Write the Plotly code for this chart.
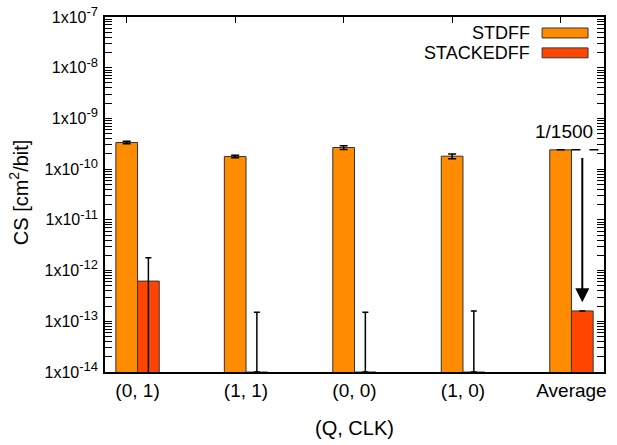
import math
import plotly.graph_objects as go

# ---- data ----
categories = ["(0, 1)", "(1, 1)", "(0, 0)", "(1, 0)", "Average"]
stdff = [3.35e-10, 1.77e-10, 2.67e-10, 1.80e-10, 2.40e-10]
stdff_err = [2.0e-11, 1.0e-11, 2.2e-11, 1.9e-11, 0.0]
stackedff = [6.2e-13, 0.0, 0.0, 0.0, 1.6e-13]
stackedff_err_hi = [1.8e-12, 1.5e-13, 1.5e-13, 1.6e-13, 0.0]  # upper end of error bar
ytick_exps = [-14, -13, -12, -11, -10, -9, -8, -7]
ratio_label = "1/1500"

# ---- styling ----
FONT = "Liberation Sans, Arial, sans-serif"
C_STD = "#FF8C00"
C_STK = "#FF4500"
BAR_W = 0.2
Y_MIN = 1e-14
X_RANGE = [-0.2, 4.4]

n = len(categories)
xs = list(range(n))
x_std = [x for x in xs]
x_stk = [x + BAR_W for x in xs]

# zero values cannot be shown on a log axis -> place at the axis floor (invisible bar)
stk_plot = [v if v > 0 else Y_MIN for v in stackedff]
stk_up = [max(h - p, 0) if h > 0 else 0 for h, p in zip(stackedff_err_hi, stk_plot)]
stk_dn = [p if (h > 0 and v > 0) else 0 for h, p, v in zip(stackedff_err_hi, stk_plot, stackedff)]

fig = go.Figure()
fig.add_trace(go.Bar(
    x=x_std, y=stdff, width=BAR_W, name="STDFF",
    marker=dict(color=C_STD, line=dict(color="#333333", width=1)),
    error_y=dict(type="data", array=stdff_err, visible=True, color="black", thickness=1.5, width=4),
    showlegend=False,
))
fig.add_trace(go.Bar(
    x=x_stk, y=stk_plot, width=BAR_W, name="STACKEDFF",
    marker=dict(color=C_STK, line=dict(color="#333333", width=1)),
    error_y=dict(type="data", array=stk_up, arrayminus=stk_dn, symmetric=False,
                 visible=True, color="black", thickness=1.5, width=3),
    showlegend=False,
))

# dashed reference line at the average STDFF level
avg_std = stdff[-1]
avg_stk = stackedff[-1]
fig.add_trace(go.Scatter(
    x=[xs[-1] + BAR_W / 2, X_RANGE[1]], y=[avg_std, avg_std], mode="lines",
    line=dict(color="black", width=1.5, dash="dash"), showlegend=False, hoverinfo="skip",
))
# invisible trace on the top axis so it is drawn
fig.add_trace(go.Scatter(x=[xs[0]], y=[avg_std], xaxis="x2", mode="markers",
                         marker=dict(opacity=0), showlegend=False, hoverinfo="skip"))

# arrow from average STDFF down to average STACKEDFF
fig.add_annotation(
    x=x_stk[-1], y=math.log10(avg_stk) + 0.17,
    ax=x_stk[-1], ay=math.log10(avg_std) - 0.13,
    xref="x", yref="y", axref="x", ayref="y",
    showarrow=True, arrowhead=2, arrowsize=1.4, arrowwidth=2, arrowcolor="black",
    text="", standoff=0,
)
fig.add_annotation(
    x=X_RANGE[1] - 0.08, y=math.log10(avg_std) + 0.36, xref="x", yref="y",
    text=ratio_label, showarrow=False, xanchor="right", yanchor="middle",
    font=dict(family=FONT, size=19, color="black"),
)

# legend (text left of swatch, like the original)
for i, (lab, col) in enumerate([("STDFF", C_STD), ("STACKEDFF", C_STK)]):
    yc = 0.955 - i * 0.056
    fig.add_annotation(x=0.856, y=yc, xref="paper", yref="paper", text=lab,
                       showarrow=False, xanchor="right", yanchor="middle",
                       font=dict(family=FONT, size=18, color="black"))
    fig.add_shape(type="rect", xref="paper", yref="paper",
                  x0=0.876, x1=0.968, y0=yc - 0.014, y1=yc + 0.014,
                  fillcolor=col, line=dict(color="#333333", width=1))

# axis titles
fig.add_annotation(x=-0.174, y=0.507, xref="paper", yref="paper", textangle=-90,
                   text="CS [cm<sup>2</sup>/bit]", showarrow=False,
                   xanchor="center", yanchor="middle",
                   font=dict(family=FONT, size=20, color="black"))
fig.add_annotation(x=0.501, y=-0.158, xref="paper", yref="paper",
                   text="(Q, CLK)", showarrow=False, xanchor="center", yanchor="middle",
                   font=dict(family=FONT, size=20, color="black"))

yticktext = [f'1x10<sup><span style="font-size:13px">{e}</span></sup>' for e in ytick_exps]
fig.update_layout(
    width=617, height=445,
    margin=dict(l=105, r=13, t=17, b=73),
    paper_bgcolor="white", plot_bgcolor="white",
    font=dict(family=FONT, size=16, color="black"),
    barmode="overlay",
    xaxis=dict(
        range=X_RANGE, tickmode="array", tickvals=[x + BAR_W / 2 for x in xs], ticktext=categories,
        ticks="", showgrid=False, zeroline=False, showline=True, linecolor="black", linewidth=1.5,
        mirror=True, tickfont=dict(size=19), ticklabelstandoff=0, automargin=False,
    ),
    xaxis2=dict(
        range=X_RANGE, overlaying="x", side="top", tickmode="array", tickvals=xs,
        ticktext=[""] * n, ticks="inside", ticklen=6, tickwidth=1.2, tickcolor="black",
        showgrid=False, zeroline=False, showline=True, linecolor="black", linewidth=1.5,
        automargin=False,
    ),
    yaxis=dict(
        type="log", range=[ytick_exps[0], ytick_exps[-1]], tickmode="array",
        tickvals=[10 ** e for e in ytick_exps], ticktext=yticktext,
        ticks="inside", ticklen=7, tickwidth=1.2, tickcolor="black",
        minor=dict(ticks="inside", ticklen=4, tickcolor="black", dtick="D1", showgrid=False),
        showgrid=False, zeroline=False, showline=True, linecolor="black", linewidth=1.5,
        mirror="allticks", tickfont=dict(size=16), automargin=False, ticklabelstandoff=2,
        ticklabeloverflow="allow",
    ),
)

# remove the default 8px page margin so the figure fills the window exactly
fig.write_html("out.html", config={"displayModeBar": False},
               post_script="document.body.style.margin='0';")
